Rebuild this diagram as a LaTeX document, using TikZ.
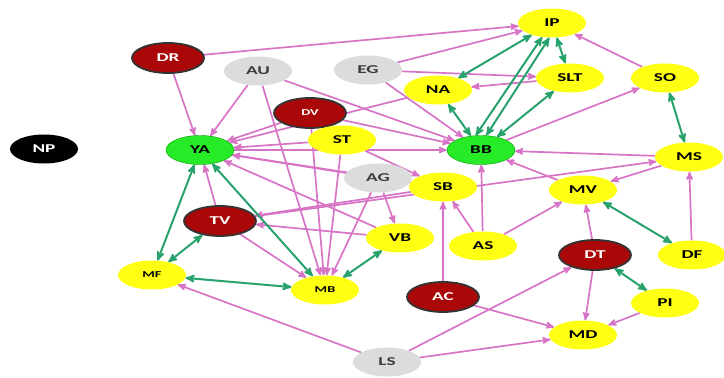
\documentclass[tikz,border=0pt]{standalone}
\usepackage{fontspec}
\setmainfont{Carlito}
\newfontfamily\labelfont[FakeStretch=1.6]{Carlito}
\usepackage{tikz}
\usetikzlibrary{arrows,shapes.geometric}
\definecolor{edge_pink}{RGB}{216,116,198}
\definecolor{edge_green}{RGB}{40,162,108}
\definecolor{node_red}{RGB}{170,8,8}
\definecolor{node_yellow}{RGB}{255,255,20}
\definecolor{node_green}{RGB}{40,235,40}
\definecolor{node_gray}{RGB}{220,220,220}
\definecolor{text_gray}{RGB}{60,60,60}
\pgfdeclarelayer{bg}
\pgfsetlayers{bg,main}

\begin{document}
\begin{tikzpicture}[->,>=stealth',x=1pt,y=-1pt]
    \tikzstyle{bubble}=[ellipse, minimum width=68pt, minimum height=29pt, inner sep=0pt, font=\labelfont\bfseries\fontsize{12}{12}\selectfont]
    \tikzstyle{ynode}=[bubble, fill=node_yellow, text=black]
    \tikzstyle{gnode}=[bubble, fill=node_green, draw=green!60!black, thin, text=black]
    \tikzstyle{snode}=[bubble, fill=node_gray, text=text_gray]
    \tikzstyle{rnode}=[bubble, minimum width=72pt, minimum height=30pt, fill=node_red, draw=black!80, line width=1.8pt, text=white]
    \tikzstyle{bnode}=[bubble, fill=black, text=white]
    \tikzstyle{tiny}=[font=\labelfont\bfseries\fontsize{9}{9}\selectfont]
    \tikzstyle{pk}=[draw=edge_pink, line width=1.7pt]
    \tikzstyle{gr}=[<->, draw=edge_green, line width=2pt]

    \useasboundingbox (0,0) rectangle (724,378);

    \node[bnode] (np)  at (44,149)  {NP};
    \node[rnode] (dr)  at (168,58)  {DR};
    \node[snode] (au)  at (258,71)  {AU};
    \node[snode] (eg)  at (368,70)  {EG};
    \node[ynode] (ip)  at (552,23)  {IP};
    \node[ynode] (na)  at (438,90)  {NA};
    \node[ynode] (slt) at (570,78)  {SLT};
    \node[ynode] (so)  at (665,78)  {SO};
    \node[rnode,tiny] (dv) at (310,113) {DV};
    \node[ynode] (st)  at (342,140) {ST};
    \node[gnode] (ya)  at (200,150) {YA};
    \node[gnode] (bb)  at (481,150) {BB};
    \node[ynode] (ms)  at (689,157) {MS};
    \node[snode] (ag)  at (378,178) {AG};
    \node[ynode] (sb)  at (443,187) {SB};
    \node[ynode] (mv)  at (583,190) {MV};
    \node[rnode] (tv)  at (220,221) {TV};
    \node[ynode] (vb)  at (400,238) {VB};
    \node[ynode] (as)  at (483,246) {AS};
    \node[ynode] (df)  at (692,255) {DF};
    \node[rnode] (dt)  at (595,255) {DT};
    \node[ynode,tiny] (mf) at (152,275) {MF};
    \node[ynode,tiny] (mb) at (325,290) {MB};
    \node[rnode] (ac)  at (443,297) {AC};
    \node[ynode] (pi)  at (665,303) {PI};
    \node[ynode] (md)  at (583,335) {MD};
    \node[snode] (ls)  at (387,362) {LS};

    \begin{pgfonlayer}{bg}
    \path
     (dr) edge[pk] (ip)
     (dr) edge[pk] (ya)
     (au) edge[pk] (ya)
     (au) edge[pk] (mb)
     (au) edge[pk] (bb)
     (eg) edge[pk] (ip)
     (eg) edge[pk] (slt)
     (eg) edge[pk] (bb)
     (slt) edge[pk] (na)
     (na) edge[pk] (ya)
     (so) edge[pk] (ip)
     (bb) edge[pk] (so)
     (ms) edge[pk] (bb)
     (ms) edge[pk] (mv)
     (df) edge[pk] (ms)
     (mv) edge[pk] (bb)
     (as) edge[pk] (bb)
     (as) edge[pk] (sb)
     (as) edge[pk] (mv)
     (ac) edge[pk] (sb)
     (ac) edge[pk] (md)
     (ls) edge[pk] (mf)
     (ls) edge[pk] (dt)
     (ls) edge[pk] (md)
     (dt) edge[pk] (mv)
     (dt) edge[pk] (md)
     (pi) edge[pk] (md)
     (ag) edge[pk] (vb)
     (ag) edge[pk] (ya)
     (ag) edge[pk] (mb)
     (dv) edge[pk] (ya)
     (dv) edge[pk] (mb)
     (dv) edge[pk] (bb)
     (st) edge[pk] (ya)
     (st) edge[pk] (mb)
     (st) edge[pk] (sb)
     (ya) edge[pk] (bb)
     (vb) edge[pk] (ya)
     (sb) edge[pk] (ya)
     (vb) edge[pk] (tv)
     (sb) edge[pk] (tv)
     (tv) edge[pk] (ms)
     (tv) edge[pk] (mb)
     (tv) edge[pk] (ya)
     (ya) edge[gr] (mf)
     (ya) edge[gr] (mb)
     (tv) edge[gr] (mf)
     (mf) edge[gr] (mb)
     (vb) edge[gr] (mb)
     (ip) edge[gr] (na)
     (ip.235) edge[gr] (bb.110)
     (ip.260) edge[gr] (bb.70)
     (ip) edge[gr] (slt)
     (slt) edge[gr] (bb)
     (na) edge[gr] (bb)
     (so) edge[gr] (ms)
     (mv) edge[gr] (df)
     (dt) edge[gr] (pi)
     ;
    \end{pgfonlayer}
\end{tikzpicture}
\end{document}
